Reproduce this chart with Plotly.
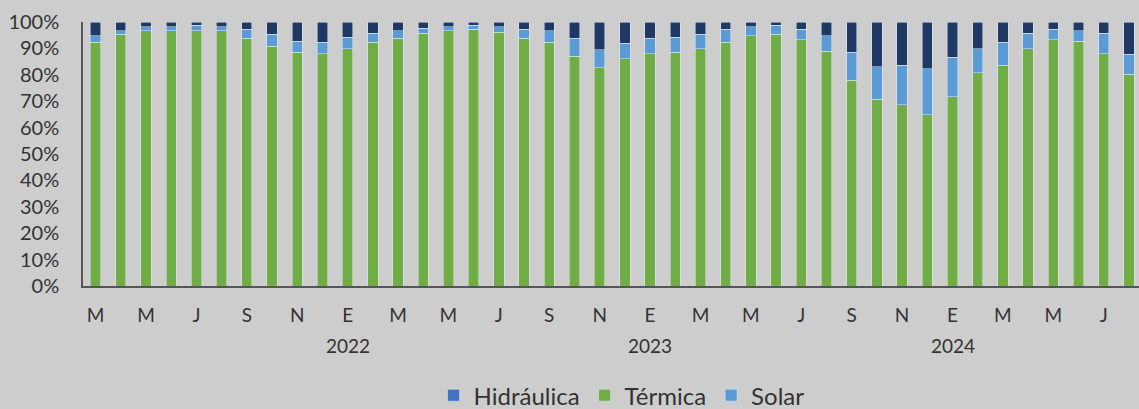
import plotly.graph_objects as go

months = ["2021-03","2021-04","2021-05","2021-06","2021-07","2021-08","2021-09","2021-10","2021-11","2021-12",
          "2022-01","2022-02","2022-03","2022-04","2022-05","2022-06","2022-07","2022-08","2022-09","2022-10","2022-11","2022-12",
          "2023-01","2023-02","2023-03","2023-04","2023-05","2023-06","2023-07","2023-08","2023-09","2023-10","2023-11","2023-12",
          "2024-01","2024-02","2024-03","2024-04","2024-05","2024-06","2024-07","2024-08"]

termica = [92.4, 95.3, 96.7, 96.7, 96.7, 96.7, 93.8, 90.9, 88.5, 88.0,
           89.9, 92.4, 93.8, 95.7, 96.7, 97.2, 96.2, 93.8, 92.4, 87.1, 82.7, 86.1,
           88.0, 88.5, 89.9, 92.4, 94.8, 95.3, 93.3, 89.0, 77.9, 70.7, 68.6, 64.8,
           71.6, 80.8, 83.7, 89.9, 93.3, 92.8, 88.0, 80.3]
solar = [2.4, 1.4, 1.5, 1.5, 2.0, 1.5, 3.4, 4.4, 4.3, 4.3,
         4.4, 3.3, 2.9, 2.0, 1.5, 1.5, 2.0, 3.4, 4.3, 6.7, 6.7, 5.8,
         5.8, 5.8, 5.4, 4.8, 3.4, 3.4, 3.9, 5.8, 10.6, 12.4, 15.1, 17.4,
         15.0, 9.1, 8.7, 5.8, 3.9, 3.9, 7.7, 7.5]
hidraulica = [5.2, 3.3, 1.8, 1.8, 1.3, 1.8, 2.8, 4.7, 7.2, 7.7,
              5.7, 4.3, 3.3, 2.3, 1.8, 1.3, 1.8, 2.8, 3.3, 6.2, 10.6, 8.1,
              6.2, 5.7, 4.7, 2.8, 1.8, 1.3, 2.8, 5.2, 11.5, 16.9, 16.3, 17.8,
              13.4, 10.1, 7.6, 4.3, 2.8, 3.3, 4.3, 12.2]

tick_months = ["2021-03","2021-05","2021-07","2021-09","2021-11","2022-01","2022-03","2022-05","2022-07","2022-09","2022-11",
               "2023-01","2023-03","2023-05","2023-07","2023-09","2023-11","2024-01","2024-03","2024-05","2024-07"]
tick_labels = ["M","M","J","S","N","E","M","M","J","S","N","E","M","M","J","S","N","E","M","M","J"]
year_months = ["2022-01","2023-01","2024-01"]
year_labels = ["2022","2023","2024"]
y_ticks = [0, 10, 20, 30, 40, 50, 60, 70, 80, 90, 100]
y_tick_labels = ["0%", "10%", "20%", "30%", "40%", "50%", "60%", "70%", "80%", "90%", "100%"]

C_TER = "#70AD47"
C_SOL = "#5B9BD5"
C_HID = "#203864"
C_HID_LEG = "#4472C4"
TXT = "#333333"
BG = "#CDCDCD"
FONT = "Lato, Liberation Sans, sans-serif"

fig = go.Figure()
fig.add_bar(x=months, y=termica, marker_color=C_TER, showlegend=False, name="Térmica")
fig.add_bar(x=months, y=solar, marker_color=C_SOL, showlegend=False, name="Solar")
fig.add_bar(x=months, y=hidraulica, marker_color=C_HID, showlegend=False, name="Hidráulica")
# legend entries
for nm, col in [("Hidráulica", C_HID_LEG), ("Térmica", C_TER), ("Solar", C_SOL)]:
    fig.add_bar(x=[None], y=[None], marker_color=col, name=nm, showlegend=True)

for m, lab in zip(year_months, year_labels):
    fig.add_annotation(x=m, xref="x", y=-0.227, yref="paper", text=lab, showarrow=False,
                       font=dict(size=19, color=TXT, family=FONT),
                       xanchor="center", yanchor="middle")

fig.update_layout(
    barmode="stack",
    bargap=0.59,
    width=1139, height=409,
    margin=dict(l=83, r=0, t=22, b=123, autoexpand=False),
    paper_bgcolor=BG, plot_bgcolor=BG,
    font=dict(family=FONT, size=19, color=TXT),
    legend=dict(orientation="h", x=0.51, xanchor="center", y=-0.415, yanchor="middle",
                font=dict(size=24, color=TXT), traceorder="normal", itemwidth=30,
                bgcolor="rgba(0,0,0,0)"),
    showlegend=True,
)
fig.update_xaxes(type="category", categoryorder="array", categoryarray=months,
                 range=[-0.5, 41.4], tickvals=tick_months, ticktext=tick_labels,
                 showline=True, linecolor="#555555", linewidth=1.5,
                 ticks="outside", ticklen=11, tickcolor="rgba(0,0,0,0)",
                 showgrid=False, zeroline=False, tickfont=dict(size=19, color=TXT))
fig.update_yaxes(range=[0, 100], tickvals=y_ticks, ticktext=y_tick_labels,
                 showline=True, linecolor="#555555", linewidth=1.5,
                 ticks="outside", ticklen=18, tickcolor="rgba(0,0,0,0)",
                 showgrid=False, zeroline=False, tickfont=dict(size=20, color=TXT))

fig.write_html("out.html", config={"displayModeBar": False},
               post_script="document.body.style.margin='0';document.body.style.background='%s';" % BG)
